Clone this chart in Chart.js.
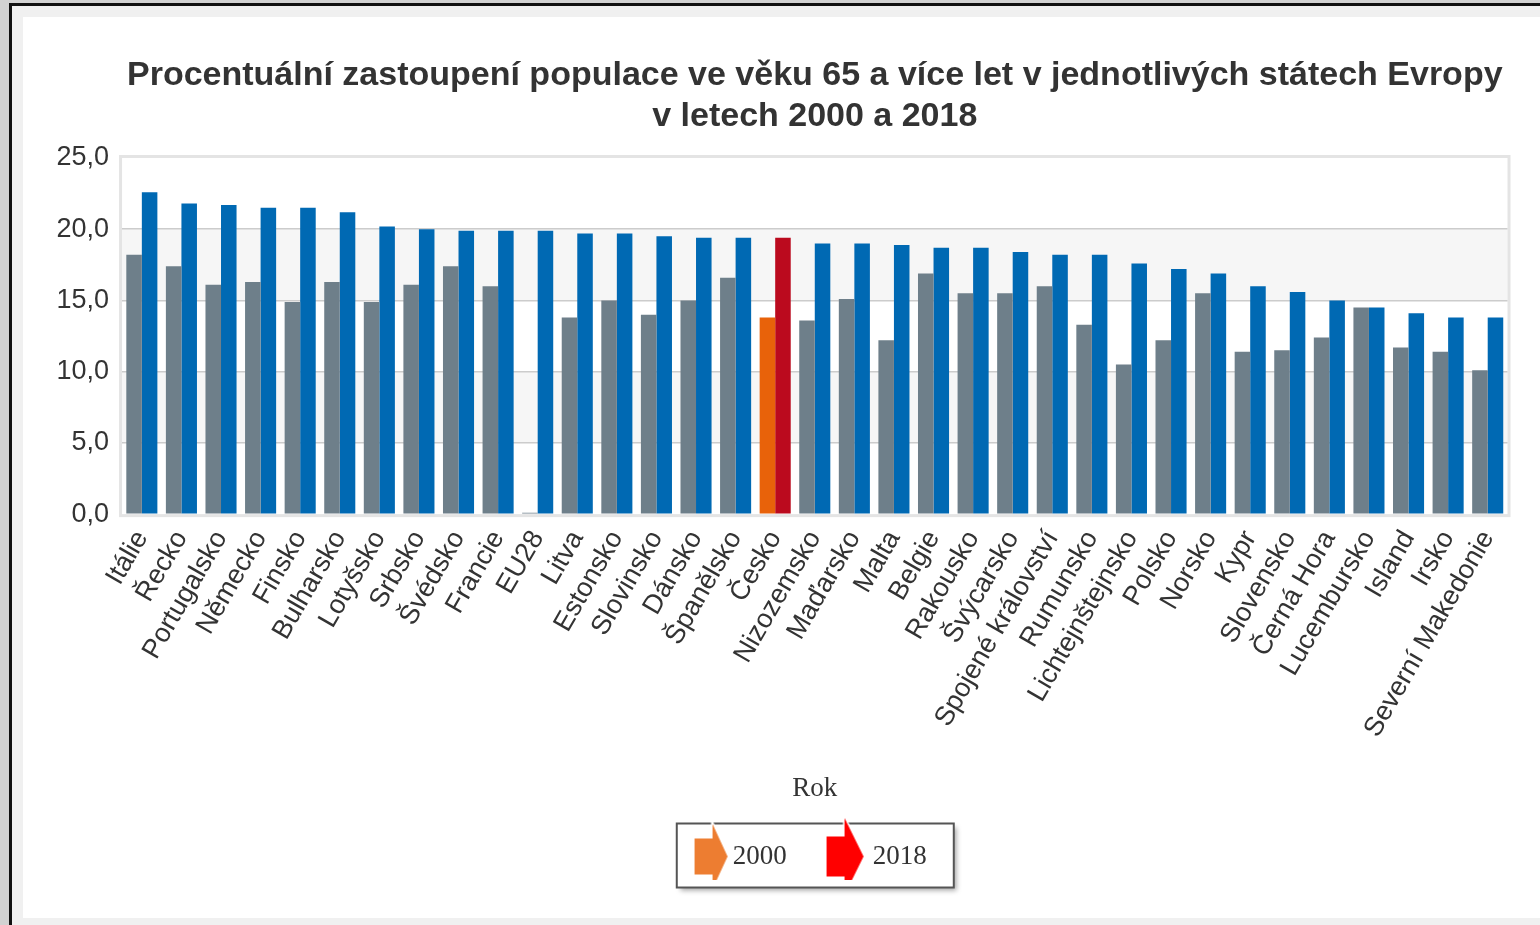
<!DOCTYPE html>
<html><head><meta charset="utf-8">
<script src="https://cdn.jsdelivr.net/npm/chart.js@4"></script>
<style>
html,body{margin:0;padding:0;width:1540px;height:925px;overflow:hidden;background:#d2d2d2;}
#frame{position:absolute;left:9px;top:3px;right:0;bottom:0;border-left:3px solid #111;border-top:3px solid #111;background:#f0f0f0;}
#wrap{position:absolute;left:23px;top:17px;width:1517px;height:901px;background:#fff;}
</style></head><body>
<div id="frame"></div>
<div id="wrap"><canvas id="c" width="1517" height="901"></canvas></div>
<script>
const titleLines = ['Procentuální zastoupení populace ve věku 65 a více let v jednotlivých státech Evropy', 'v letech 2000 a 2018'];
const categories = ['Itálie','Řecko','Portugalsko','Německo','Finsko','Bulharsko','Lotyšsko','Srbsko','Švédsko','Francie','EU28','Litva','Estonsko','Slovinsko','Dánsko','Španělsko','Česko','Nizozemsko','Maďarsko','Malta','Belgie','Rakousko','Švýcarsko','Spojené království','Rumunsko','Lichtejnštejnsko','Polsko','Norsko','Kypr','Slovensko','Černá Hora','Lucembursko','Island','Irsko','Severní Makedonie'];
const values2000 = [18.2,17.4,16.1,16.3,14.9,16.3,14.9,16.1,17.4,16.0,0.1,13.8,15.0,14.0,15.0,16.6,13.8,13.6,15.1,12.2,16.9,15.5,15.5,16.0,13.3,10.5,12.2,15.5,11.4,11.5,12.4,14.5,11.7,11.4,10.1];
const values2018 = [22.6,21.8,21.7,21.5,21.5,21.2,20.2,20.0,19.9,19.9,19.9,19.7,19.7,19.5,19.4,19.4,19.4,19.0,19.0,18.9,18.7,18.7,18.4,18.2,18.2,17.6,17.2,16.9,16.0,15.6,15.0,14.5,14.1,13.8,13.8];
const seriesLabels = ['2000','2018'];
const yTickValues = [0,5,10,15,20,25];
const yTickLabels = ['0,0','5,0','10,0','15,0','20,0','25,0'];
const xTitle = 'Rok';
const highlight = 'Česko';

const hi = categories.indexOf(highlight);
const col2000 = categories.map((c,i)=> i===hi ? '#e8620a' : '#6e7f8a');
const col2018 = categories.map((c,i)=> i===hi ? '#bb0a1e' : '#0069b3');

function makeArrow(color, bodyW, bodyH, headW, headH, shift){
  const pad = 3, w = bodyW + headW;
  const c = document.createElement('canvas');
  c.width = Math.ceil(2*(w/2 + Math.abs(shift)) + 2*pad);
  c.height = Math.ceil(headH + 2*pad);
  const g = c.getContext('2d');
  const x0 = c.width/2 + shift - w/2, cy = c.height/2;
  g.beginPath();
  g.moveTo(x0, cy-bodyH/2); g.lineTo(x0+bodyW, cy-bodyH/2); g.lineTo(x0+bodyW, cy-headH/2);
  g.lineTo(x0+w, cy); g.lineTo(x0+bodyW, cy+headH/2); g.lineTo(x0+bodyW, cy+bodyH/2);
  g.lineTo(x0, cy+bodyH/2); g.closePath();
  g.strokeStyle = '#fff'; g.lineWidth = 3; g.lineJoin='miter'; g.stroke();
  g.fillStyle = color; g.fill();
  return c;
}
const legendMarkers = [makeArrow('#ed7d31', 18, 36, 15, 65, 0), makeArrow('#ff0000', 18, 40, 19, 77, -6)];

const decorPlugin = {
  id: 'decor',
  beforeDraw(chart){
    const {ctx, chartArea:a, scales:{y}} = chart;
    ctx.save();
    ctx.fillStyle = '#f6f6f6';
    [[5,10],[15,20]].forEach(([lo,hi2])=>{
      const t = y.getPixelForValue(hi2), b = y.getPixelForValue(lo);
      ctx.fillRect(a.left, t, a.width, b-t);
    });
    ctx.strokeStyle = '#e4e4e4'; ctx.lineWidth = 3;
    ctx.strokeRect(a.left-1.5, a.top-1.5, a.width+3, a.height+3);
    const hb = chart.legend.legendHitBoxes;
    if (hb && hb.length){
      const l = Math.min(...hb.map(h=>h.left)) - 26;
      const r = Math.max(...hb.map(h=>h.left+h.width)) + 27;
      const cy = hb[0].top + hb[0].height/2;
      const t = cy - 33, b = cy + 31;
      ctx.shadowColor = 'rgba(0,0,0,0.35)'; ctx.shadowBlur = 5; ctx.shadowOffsetX = 3; ctx.shadowOffsetY = 3;
      ctx.fillStyle = '#fff'; ctx.fillRect(l, t, r-l, b-t);
      ctx.shadowColor = 'transparent';
      ctx.strokeStyle = '#555'; ctx.lineWidth = 2; ctx.strokeRect(l, t, r-l, b-t);
    }
    ctx.restore();
  }
};

new Chart(document.getElementById('c'), {
  type: 'bar',
  data: {
    labels: categories,
    datasets: [
      {label: seriesLabels[0], data: values2000, backgroundColor: col2000},
      {label: seriesLabels[1], data: values2018, backgroundColor: col2018}
    ]
  },
  options: {
    responsive: false, animation: false, devicePixelRatio: 1,
    datasets: {bar: {categoryPercentage: 0.785, barPercentage: 1.0}},
    layout: {padding: {left: 20.5, right: 32.5, top: 0, bottom: 38}},
    plugins: {
      title: {display: true, text: titleLines, fullSize: false, color: '#333',
        font: {family: 'Liberation Sans, Arial, sans-serif', size: 34, weight: 'bold', lineHeight: 1.2},
        padding: {top: 38.6, bottom: 20.8}},
      legend: {position: 'bottom', fullSize: false,
        labels: {usePointStyle: true, boxWidth: 16.5, padding: 56, color: '#333',
          font: {family: 'Liberation Serif, Times New Roman, serif', size: 27},
          generateLabels(chart){
            return chart.data.datasets.map((ds,i)=>({text: ds.label, pointStyle: legendMarkers[i], fillStyle: '#fff', strokeStyle: 'rgba(0,0,0,0)', lineWidth: 0, hidden: !chart.isDatasetVisible(i), datasetIndex: i, fontColor: '#333'}));
          }}},
      tooltip: {enabled: false}
    },
    scales: {
      x: {
        grid: {display: false}, border: {display: false},
        ticks: {minRotation: 60, maxRotation: 60, autoSkip: false, color: '#333', padding: 3,
          font: {family: 'Liberation Sans, Arial, sans-serif', size: 27}},
        title: {display: true, text: xTitle, color: '#333',
          font: {family: 'Liberation Serif, Times New Roman, serif', size: 27},
          padding: {top: 26.5, bottom: -17.7}}
      },
      y: {
        min: 0, max: 25,
        afterBuildTicks(scale){ scale.ticks = yTickValues.map(v=>({value: v})); },
        border: {display: false},
        grid: {drawTicks: false, lineWidth: 1.5, color: c => (c.tick && (c.tick.value===0 || c.tick.value===25)) ? 'rgba(0,0,0,0)' : '#cccccc'},
        ticks: {padding: 13, color: '#333', font: {family: 'Liberation Sans, Arial, sans-serif', size: 27},
          callback: (v) => yTickLabels[yTickValues.indexOf(v)]}
      }
    }
  },
  plugins: [decorPlugin]
});
</script>
</body></html>
